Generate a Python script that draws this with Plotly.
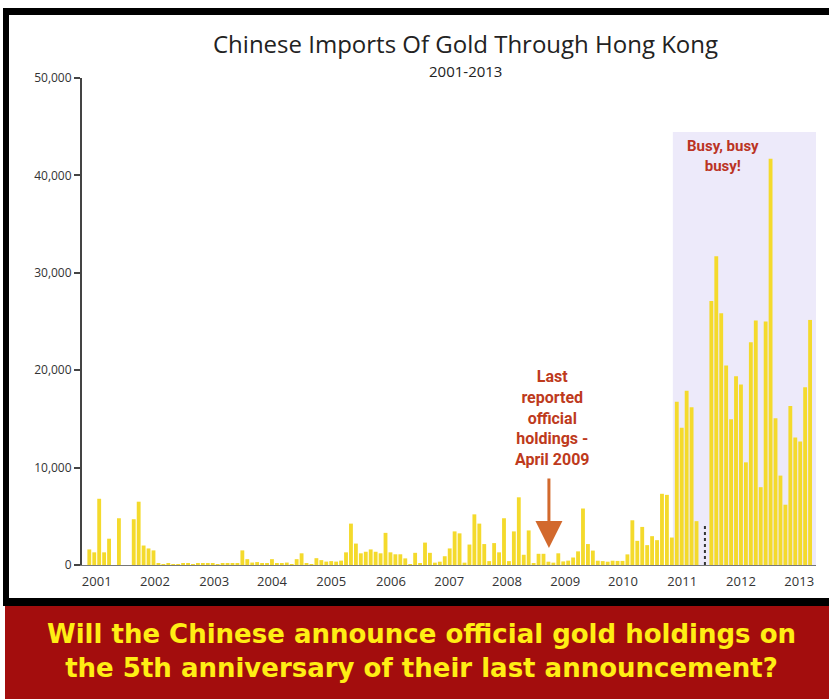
import plotly.graph_objects as go

# ---------------- data (monthly imports) ----------------
imports = [
    1600, 1300, 6800, 1300, 2700, 0, 4800, 0, 0, 4700, 6500, 2000, 1700, 1500,
    150, 100, 120, 80, 100, 150, 120, 100, 150, 200, 120, 150, 100, 180, 150, 120, 200,
    1500, 600, 250, 300, 200, 150, 600, 150, 150, 250, 100, 600, 1200, 150, 100,
    700, 500, 350, 400, 350, 450, 1300, 4250, 2200, 1200, 1360, 1600, 1360, 1200,
    3300, 1300, 1100, 1100, 680, 100, 1250, 170, 2300, 1250, 240, 340, 900, 1700,
    3450, 3250, 240, 2100, 5200, 4250, 2150, 400, 2250, 1300, 4800, 400, 3450, 6950,
    1050, 3550, 150, 1150, 1150, 340, 240, 1200, 370, 450, 770, 1400, 5800, 2150,
    1480, 440, 400, 340, 440, 420, 420, 1090, 4590, 2480, 3910, 2040, 2960, 2550,
    7310, 7200, 2820, 16760, 14100, 17900, 16200, 4500, 0, 0, 27100, 31700, 25840,
    20470, 14960, 19380, 18530, 10540, 22880, 25090, 7990, 24990, 41720, 15060, 9180,
    6190, 16320, 13090, 12680, 18260, 25160,
]
month_index = list(range(len(imports)))

# missing month drawn as dotted outline
gap_month = 124.7
gap_value = 4300

year_labels = ["2001", "2002", "2003", "2004", "2005", "2006", "2007",
               "2008", "2009", "2010", "2011", "2012", "2013"]
year_label_pos = [1.5, 13.3, 25.3, 37.0, 49.0, 61.1, 72.9, 84.6, 96.4, 108.1, 120.1, 132.0, 143.8]

y_ticks = [0, 10000, 20000, 30000, 40000, 50000]

# ---------------- layout helpers ----------------
W, H = 829, 699
L, R, T, B = 82, 816, 78, 565


def px(xp):
    return (xp - L) / (R - L)


def py(yp):
    return (B - yp) / (B - T)


fig = go.Figure()

fig.add_trace(go.Bar(
    x=month_index, y=imports,
    marker=dict(color="#F4DA2C", line=dict(width=0)),
    hoverinfo="x+y",
))

fig.add_trace(go.Scatter(
    x=[gap_month, gap_month], y=[0, gap_value], mode="lines",
    line=dict(color="#333333", width=2, dash="dot"),
    hoverinfo="skip",
))

shapes = [
    # black frame
    dict(type="rect", xref="paper", yref="paper", layer="below",
         x0=px(3), x1=px(840), y0=py(606), y1=py(8),
         fillcolor="#000000", line=dict(width=0)),
    # white chart card
    dict(type="rect", xref="paper", yref="paper", layer="below",
         x0=px(9), x1=px(840), y0=py(598), y1=py(15),
         fillcolor="#FFFFFF", line=dict(width=0)),
    # red banner
    dict(type="rect", xref="paper", yref="paper", layer="below",
         x0=px(5), x1=px(840), y0=py(705), y1=py(606),
         fillcolor="#A30D0D", line=dict(width=0)),
    # highlighted 'busy' period
    dict(type="rect", xref="x", yref="y", layer="below",
         x0=118.2, x1=147.2, y0=0, y1=44460,
         fillcolor="#EDEAFA", line=dict(width=0)),
]

annotations = [
    dict(text="Chinese Imports Of Gold Through Hong Kong", xref="paper", yref="paper",
         x=px(465), y=py(44), showarrow=False, xanchor="center", yanchor="middle",
         font=dict(family="Open Sans", size=24, color="#222222")),
    dict(text="2001-2013", xref="paper", yref="paper",
         x=px(466), y=py(71), showarrow=False, xanchor="center", yanchor="middle",
         font=dict(family="Open Sans", size=15, color="#222222")),
    dict(text="<b>Busy, busy<br>busy!</b>", xref="x", yref="y",
         x=128.4, y=41990, showarrow=False, xanchor="center", yanchor="middle",
         font=dict(family="Roboto", size=15, color="#BB3424")),
    dict(text="<b>Last<br>reported<br>official<br>holdings -<br>April 2009</b>", xref="x", yref="y",
         x=93.9, y=15090, showarrow=False, xanchor="center", yanchor="middle",
         font=dict(family="Roboto", size=16, color="#BE3A1C")),
    dict(text="", xref="x", yref="y", axref="x", ayref="y",
         x=93.1, y=1745, ax=93.1, ay=9035, showarrow=True,
         arrowhead=2, arrowsize=1.8, arrowwidth=3, arrowcolor="#D2692D"),
    dict(text="<b>Will the Chinese announce official gold holdings on<br>"
              "the 5th anniversary of their last announcement?</b>",
         xref="paper", yref="paper", x=px(421), y=py(651), showarrow=False,
         xanchor="center", yanchor="middle",
         font=dict(family="DejaVu Sans", size=26, color="#FFEE14")),
]

fig.update_layout(
    width=W, height=H,
    margin=dict(l=L, r=W - R, t=T, b=H - B, pad=0),
    paper_bgcolor="#FFFFFF",
    plot_bgcolor="rgba(0,0,0,0)",
    showlegend=False,
    bargap=0.22,
    shapes=shapes,
    annotations=annotations,
    xaxis=dict(
        range=[-1.48, 147.2], showgrid=False, zeroline=False,
        showline=True, linecolor="#777777", linewidth=1,
        ticks="", tickvals=year_label_pos, ticktext=year_labels,
        tickfont=dict(family="Open Sans", size=13, color="#333333"),
        ticklabelstandoff=4, fixedrange=True,
    ),
    yaxis=dict(
        range=[0, 50000], showgrid=False, zeroline=False,
        showline=True, linecolor="#444444", linewidth=2,
        ticks="outside", ticklen=6, tickwidth=1.5, tickcolor="#444444",
        tickvals=y_ticks, tickformat=",d",
        tickfont=dict(family="Open Sans", size=12, color="#333333"),
        fixedrange=True,
    ),
)

fig.write_html("out.html")
